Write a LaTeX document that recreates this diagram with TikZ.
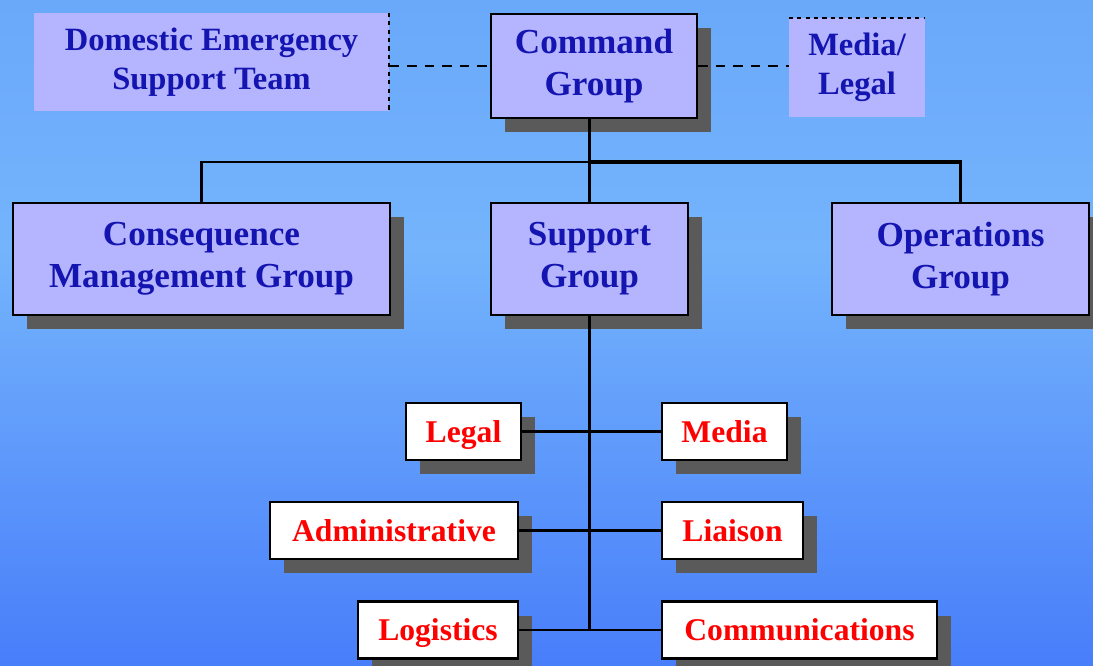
\documentclass[tikz,border=0pt]{standalone}
\usepackage{fontspec}
\setmainfont{Liberation Serif}
\usetikzlibrary{shadows}

\definecolor{bgtop}{RGB}{106,168,250}
\definecolor{bgmid}{RGB}{116,180,252}
\definecolor{bgbot}{RGB}{72,126,250}
\definecolor{boxfill}{RGB}{180,180,255}
\definecolor{navytext}{RGB}{20,20,176}
\definecolor{redtext}{RGB}{255,0,0}
\definecolor{shadowgray}{RGB}{90,90,90}

\tikzset{
    groupbox/.style={draw,line width=1.2pt,rectangle,fill=boxfill,inner sep=0pt,align=center,
        text=navytext,font=\bfseries\fontsize{20}{24}\selectfont,
        drop shadow={shadow xshift=0.28cm,shadow yshift=-0.28cm,fill=shadowgray,opacity=1}},
    staffbox/.style={rectangle,fill=boxfill,inner sep=0pt,align=center,
        text=navytext,font=\bfseries\fontsize{18.5}{22}\selectfont},
    unitbox/.style={draw,line width=1.2pt,rectangle,fill=white,inner sep=0pt,minimum height=1.14cm,
        text height=14pt,text depth=2pt,
        text=redtext,font=\bfseries\fontsize{18}{22}\selectfont,
        drop shadow={shadow xshift=0.28cm,shadow yshift=-0.28cm,fill=shadowgray,opacity=1}},
    link/.style={line width=1.3pt},
    dashlink/.style={line width=1.2pt,dash pattern=on 5.5pt off 4.5pt},
    dotlink/.style={line width=1.2pt,dash pattern=on 2.4pt off 2.4pt}
}

\begin{document}
\begin{tikzpicture}
        %%%%%%%% Background %%%%%%%%
        \useasboundingbox (0,0) rectangle (21.86,-13.3);
        \shade[top color=bgtop,bottom color=bgmid] (0,0) rectangle (21.86,-5);
        \shade[top color=bgmid,bottom color=bgbot] (0,-5) rectangle (21.86,-13.3);

        %%%%%%%% Top level %%%%%%%%%
        \node[staffbox,minimum width=7.1cm,minimum height=1.96cm] (Domestic) at (4.23,-1.24) {Domestic Emergency\\Support Team};
        \node[groupbox,minimum width=4.12cm,minimum height=2.08cm] (Command) at (11.88,-1.32) {Command\\Group};
        \node[staffbox,minimum width=2.72cm,minimum height=1.98cm] (MediaLegal) at (17.14,-1.35) {Media/\\Legal};

        %%%%%%%%% Groups %%%%%%%%%%
        \node[groupbox,minimum width=7.54cm,minimum height=2.24cm] (Consequence) at (4.03,-5.18) {Consequence\\Management Group};
        \node[groupbox,minimum width=3.94cm,minimum height=2.24cm] (Support) at (11.79,-5.18) {Support\\Group};
        \node[groupbox,minimum width=5.14cm,minimum height=2.24cm] (Operations) at (19.21,-5.18) {Operations\\Group};

        %%%%%%%%% Units %%%%%%%%%%%
        \node[unitbox,minimum width=2.3cm] (Legal) at (9.27,-8.63) {Legal};
        \node[unitbox,minimum width=2.5cm] (Media) at (14.49,-8.63) {Media};
        \node[unitbox,minimum width=4.96cm] (Admin) at (7.88,-10.61) {Administrative};
        \node[unitbox,minimum width=2.82cm] (Liaison) at (14.65,-10.61) {Liaison};
        \node[unitbox,minimum width=3.2cm] (Logistics) at (8.76,-12.6) {Logistics};
        \node[unitbox,minimum width=5.5cm] (Comms) at (15.99,-12.6) {Communications};

        %%%%%%%%% Links %%%%%%%%%%%
        \coordinate (Bus) at (11.8,-3.24);
        \draw[dotlink] (Domestic.north east) -- (Domestic.south east);
        \draw[dotlink] (MediaLegal.north west) -- (MediaLegal.north east);
        \draw[dashlink] (Command.west -| Domestic.east) -- (Command.west);
        \draw[dashlink] (Command.east) -- (Command.east -| MediaLegal.west);
        \draw[link] (Support.north |- Command.south) -- (Support.north);
        \draw[link] (Consequence.north) |- (Bus);
        \draw[line width=1.8pt] (Bus) -| (Operations.north);
        \draw[link] (Support.south) -- (Support.south |- Logistics.east);
        \draw[line width=1.8pt] (Legal.east) -- (Media.west);
        \draw[link] (Admin.east) -- (Liaison.west);
        \draw[link] (Logistics.east) -- (Comms.west);
    \end{tikzpicture}
\end{document}
